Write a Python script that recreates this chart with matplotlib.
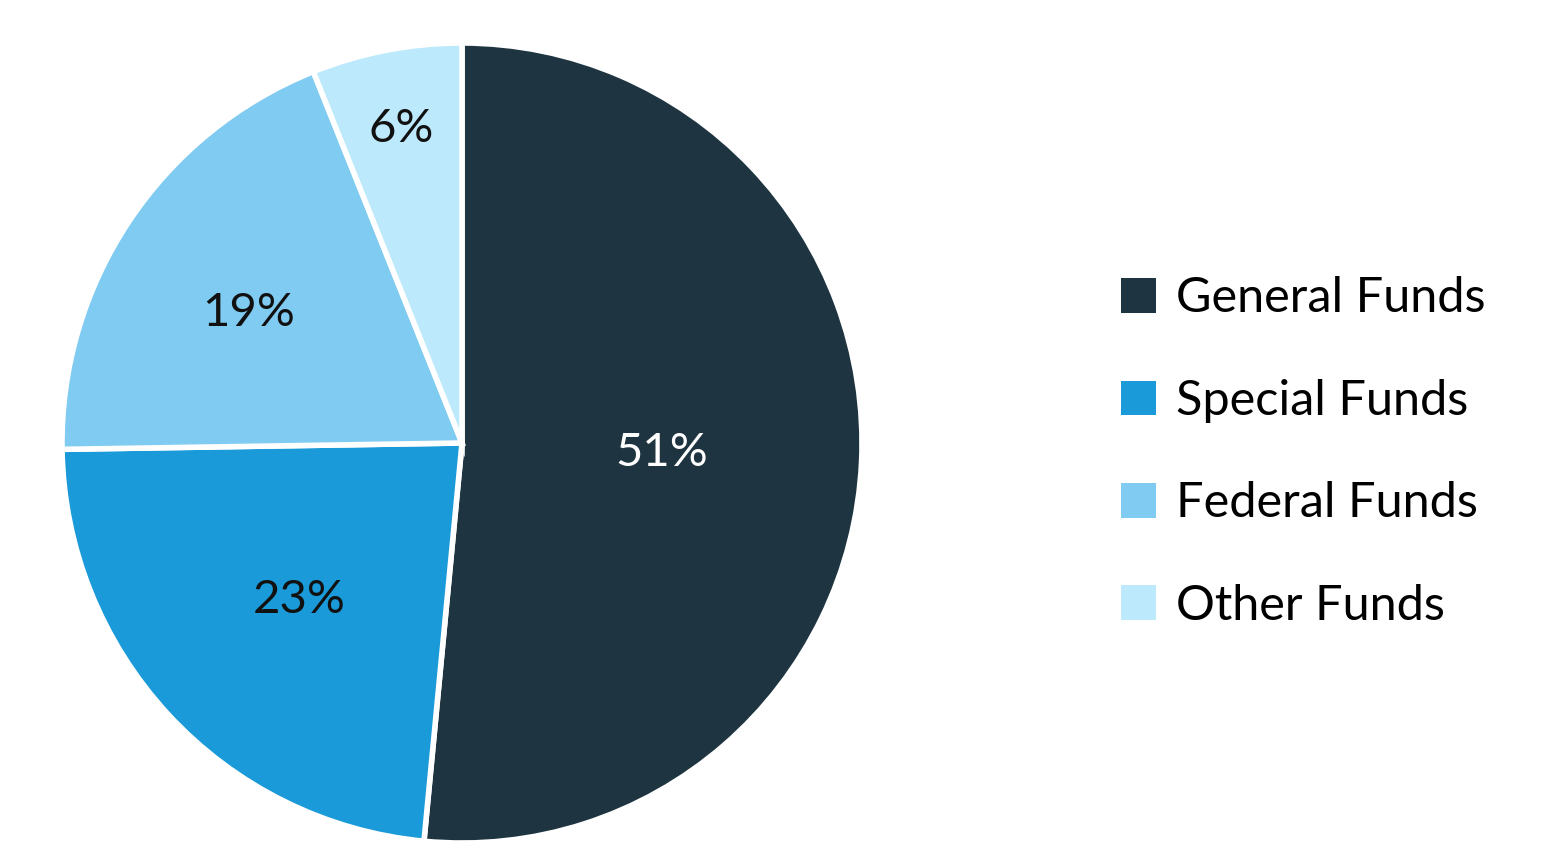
import numpy as np
import matplotlib.pyplot as plt
from matplotlib.patches import Patch

labels = ["General Funds", "Special Funds", "Federal Funds", "Other Funds"]
shares = [51, 23, 19, 6]
colors = ["#1e3541", "#1a9ad8", "#80cbf1", "#bde9fc"]
text_colors = ["white", "#111111", "#111111", "#111111"]
# label placement: radius and angle nudge (degrees) from the wedge middle
label_r = [0.5, 0.565, 0.626, 0.80]
label_da = [0.0, 1.1, 2.3, 0.0]

plt.rcParams["font.family"] = ["Lato", "DejaVu Sans"]

fig = plt.figure(figsize=(15.68, 8.52), dpi=100)
ax = fig.add_axes([62 / 1568, 9 / 852, 800 / 1568, 800 / 852])

wedges, _ = ax.pie(shares, colors=colors, startangle=90, counterclock=False,
                   radius=1, wedgeprops=dict(edgecolor="white", linewidth=4))
ax.set_xlim(-1, 1)
ax.set_ylim(-1, 1)
ax.set_aspect("equal")

for w, s, tc, r, da in zip(wedges, shares, text_colors, label_r, label_da):
    mid = np.deg2rad((w.theta1 + w.theta2) / 2 + da)
    ax.text(r * np.cos(mid), r * np.sin(mid), f"{s}%", color=tc,
            fontsize=34, ha="center", va="center")

handles = [Patch(facecolor=c, edgecolor="none") for c in colors]
fig.legend(handles, labels, loc="center left", bbox_to_anchor=(1102 / 1568, 1 - 452 / 852),
           frameon=False, fontsize=35, handlelength=0.72, handleheight=0.72,
           handletextpad=0.4, labelspacing=1.2, borderaxespad=0)

fig.savefig("out.png", dpi=100, facecolor="white")
